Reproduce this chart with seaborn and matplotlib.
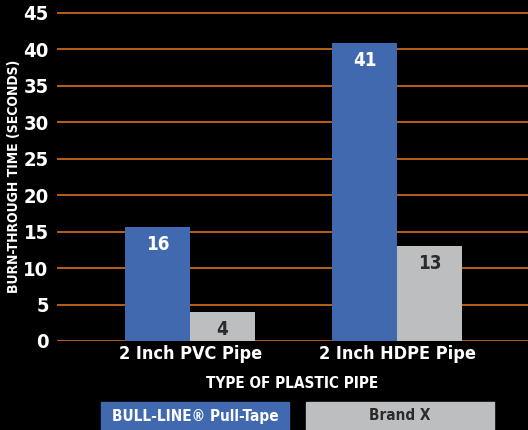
import numpy as np
import pandas as pd
import matplotlib.pyplot as plt
import matplotlib.patches as mpatches
import seaborn as sns

pipes = ["2 Inch PVC Pipe", "2 Inch HDPE Pipe"]
brands = ["BULL-LINE® Pull-Tape", "Brand X"]
bull_line = [15.6, 40.9]
brand_x = [4.0, 13.0]
bull_labels = ["16", "41"]
brandx_labels = ["4", "13"]

blue = "#4169b0"
grey = "#bdbec0"
orange = "#c8661c"

df = pd.DataFrame({
    "pipe": pipes * 2,
    "brand": [brands[0]] * 2 + [brands[1]] * 2,
    "secs": bull_line + brand_x,
})

sns.set_style("dark")
plt.rcParams["font.family"] = ["DejaVu Sans"]
plt.rcParams["font.stretch"] = "condensed"
plt.rcParams["font.weight"] = "bold"

fig = plt.figure(figsize=(5.28, 4.30), dpi=100, facecolor="black")
ytop = 45.2
ax = fig.add_axes([57 / 528, 1 - 341 / 430, 471 / 528, 328 / 430 * ytop / 45])
ax.set_facecolor("black")

sns.barplot(data=df, x="pipe", y="secs", hue="brand", palette=[blue, grey],
            width=0.628, gap=0, ax=ax, legend=False, saturation=1, linewidth=0)

# value labels
for cont, labs, col in zip(ax.containers, [bull_labels, brandx_labels], ["white", "#2b2b2b"]):
    for bar, lab in zip(cont, labs):
        ax.text(bar.get_x() + bar.get_width() / 2, bar.get_height() - 1.1, lab,
                ha="center", va="top", color=col, fontsize=13.5, fontweight="bold")

ax.set_xlim(-0.643, 1.633)
ax.set_ylim(0, ytop)
ax.set_yticks(np.arange(0, 46, 5))
ax.grid(axis="y", color=orange, linewidth=1.3)
ax.grid(axis="x", visible=False)
ax.set_axisbelow(True)
for s in ax.spines.values():
    s.set_visible(False)
ax.tick_params(axis="y", colors="white", labelsize=14.5, length=0, pad=6)
ax.tick_params(axis="x", colors="white", labelsize=13, length=0, pad=3)
for t in ax.get_xticklabels() + ax.get_yticklabels():
    t.set_fontweight("bold")

ax.set_xlabel("TYPE OF PLASTIC PIPE", color="white", fontsize=11, fontweight="bold", labelpad=9)
ax.set_ylabel("BURN-THROUGH TIME (SECONDS)", color="white", fontsize=10, fontweight="bold")
ax.yaxis.set_label_coords(-0.076, 0.5)

# legend boxes along the bottom
for (x0, x1), col, name, tcol in zip([(101, 289), (306, 494)], [blue, grey], brands, ["white", "#2b2b2b"]):
    fig.patches.append(mpatches.Rectangle((x0 / 528, 0), (x1 - x0) / 528, 28 / 430,
                                          transform=fig.transFigure, color=col))
    fig.text((x0 + x1) / 2 / 528, 14 / 430, name, ha="center", va="center",
             color=tcol, fontsize=11, fontweight="bold")

fig.savefig("out.png", dpi=100, facecolor="black")
